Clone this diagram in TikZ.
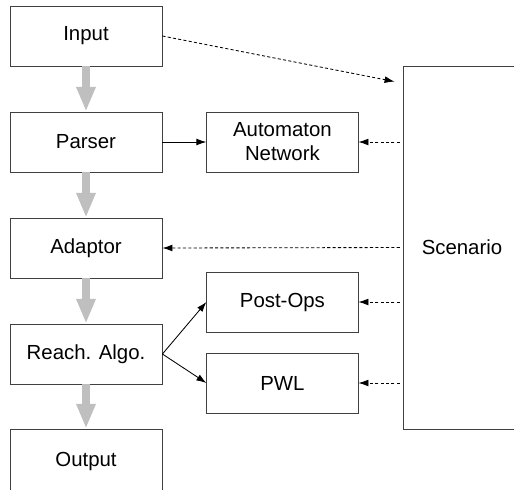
\documentclass[tikz,border=0pt]{standalone}
\usepackage{fontspec}
\setmainfont{Liberation Sans}
\usepackage{tikz}
\usetikzlibrary{positioning,arrows.meta,calc}

\begin{document}
\begin{tikzpicture}[
  every node/.style={font=\fontsize{14.5}{17}\selectfont},
  block/.style={rectangle, draw=black!75, line width=0.6pt, minimum width=3.8cm, minimum height=1.5cm, align=center},
  flow/.style={line width=5pt, color=black!25, -{Triangle[width=0.45cm, length=0.62cm]}},
  link/.style={line width=0.6pt, -{Latex[length=0.25cm, width=0.17cm]}},
  feed/.style={line width=0.6pt, dash pattern=on 2.2pt off 1.6pt, -{Latex[length=0.25cm, width=0.17cm]}}
]
  \useasboundingbox (0,0) rectangle (12.85,-12.225);
  \clip (0,0) rectangle (12.85,-12.225);

  \node[block] (inp) at (2.15,-0.9) {Input};
  \node[block] (parser) at (2.15,-3.55) {Parser};
  \node[block] (adaptor) at (2.15,-6.2) {Adaptor};
  \node[block] (reach) at (2.15,-8.85) {Reach. Algo.};
  \node[block, minimum height=1.6cm] (output) at (2.15,-11.525) {Output};

  \node[block, minimum width=3.78cm] (autnet) at (7.06,-3.55) {Automaton\\Network};
  \node[block, minimum width=3.78cm] (postops) at (7.06,-7.55) {Post-Ops};
  \node[block, minimum width=3.78cm] (pwl) at (7.06,-9.575) {PWL};

  \node[block, minimum width=2.95cm, minimum height=9.075cm] (scen) at (11.55,-6.1875) {Scenario};

  \foreach \a/\b in {inp/parser,parser/adaptor,adaptor/reach,reach/output}
    \draw[flow] (\a.south) -- (\b.north);

  \draw[link] (parser) -- (autnet);
  \draw[link] (reach.east) -- (postops.west);
  \draw[link] (reach.east) -- (pwl.west);

  \coordinate (inptip) at ($(scen.north west)+(-0.2,-0.4)$);
  \draw[feed] (inp.east) -- (inptip);
  \draw[feed] ([xshift=-2pt]autnet.east -| scen.west) -- (autnet.east);
  \draw[feed] ([xshift=-2pt]scen.west) -- (adaptor.east);
  \draw[feed] ([xshift=-2pt]postops.east -| scen.west) -- (postops.east);
  \draw[feed] ([xshift=-2pt]pwl.east -| scen.west) -- (pwl.east);
\end{tikzpicture}
\end{document}
